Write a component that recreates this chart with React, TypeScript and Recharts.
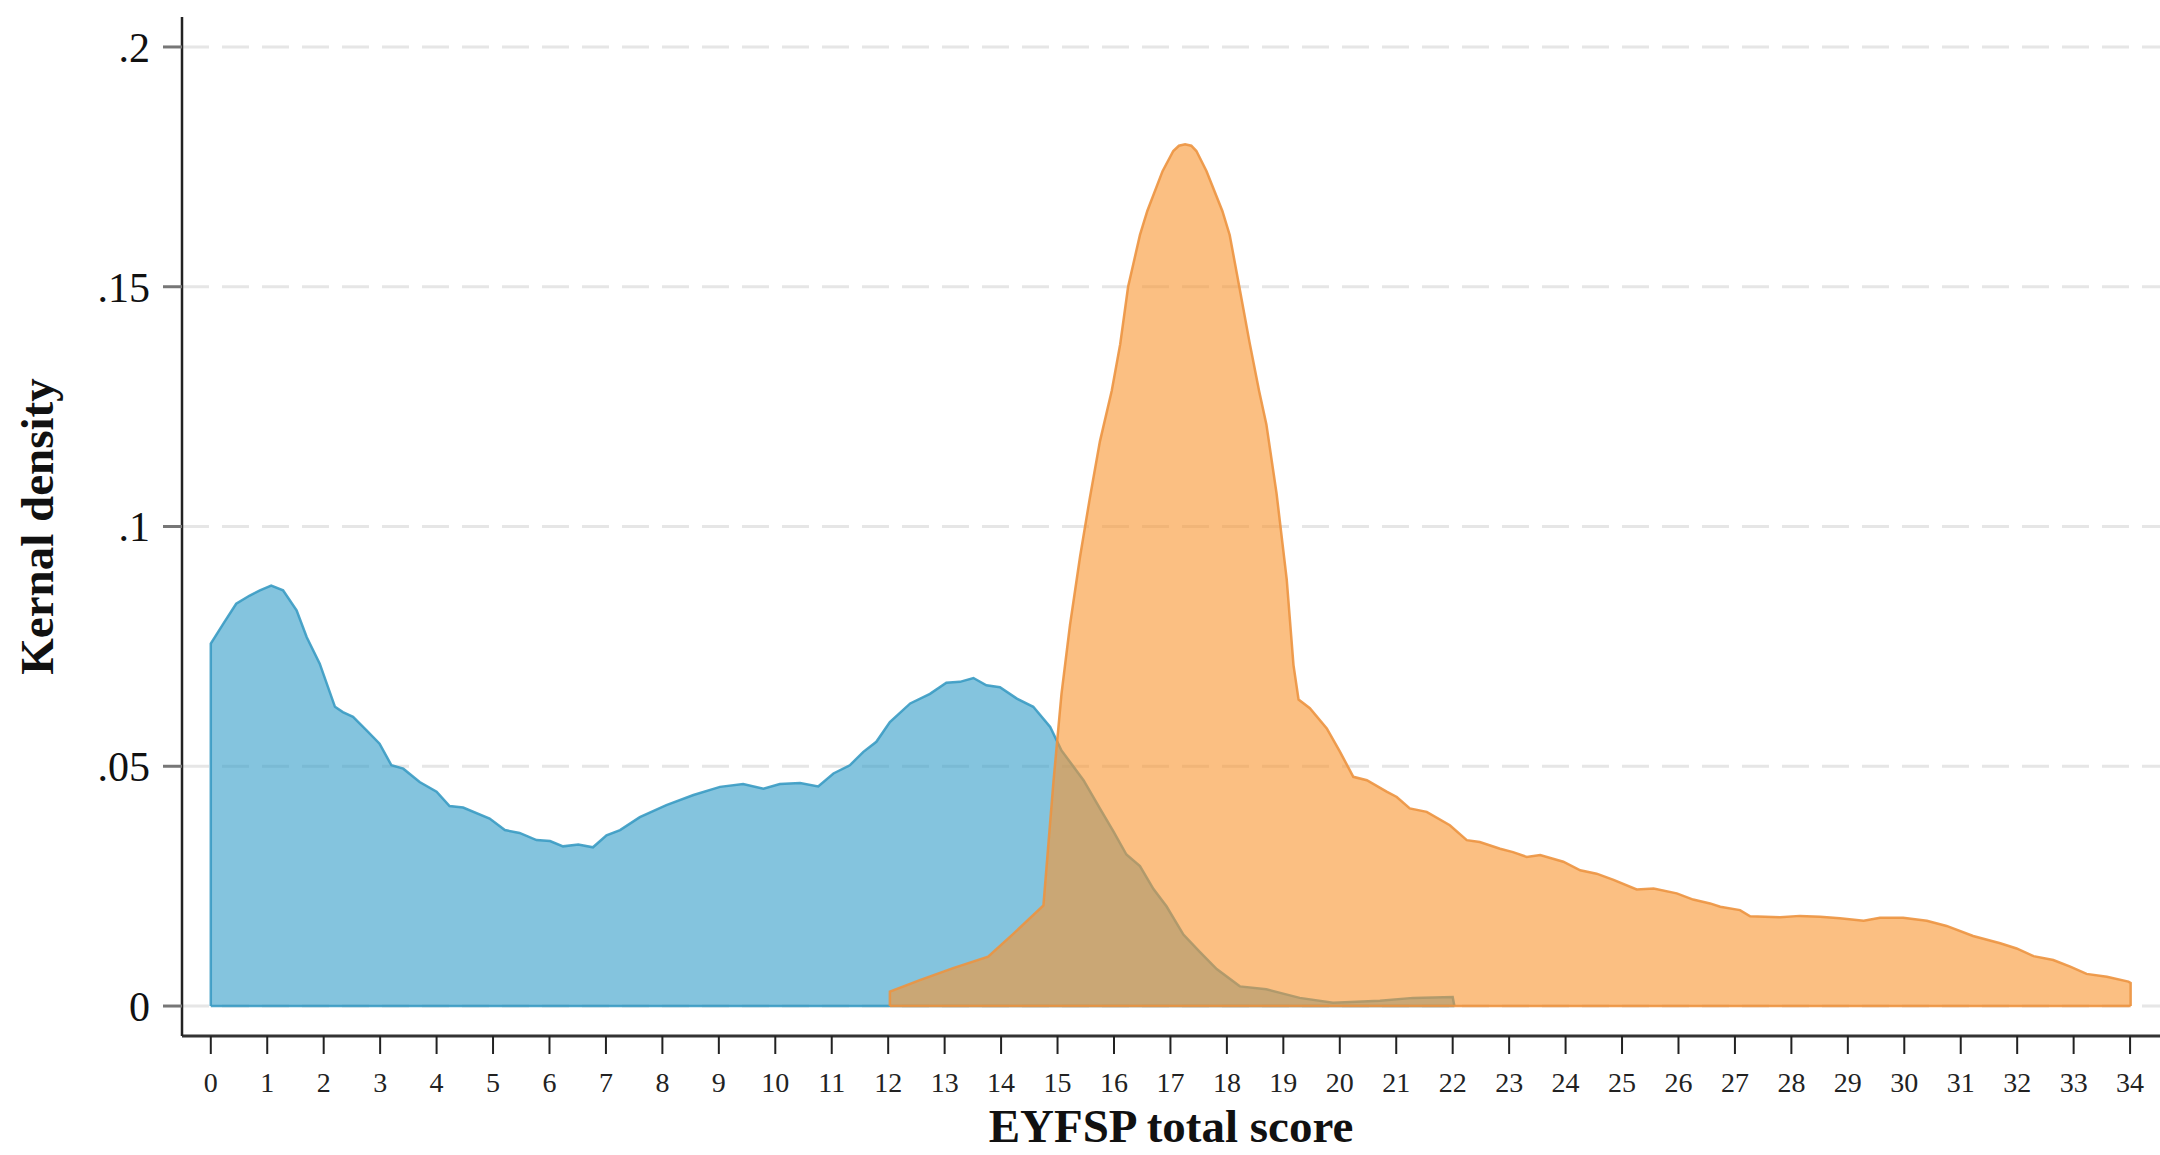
import * as React from "react";
import { Area, CartesianGrid, ComposedChart, Label, XAxis, YAxis } from "recharts";

// Kernel density of EYFSP total score, two groups.
// Each series starts and ends on the baseline so the outline has vertical edges.

const blueX = [
  0, 0, 0.22, 0.45, 0.69, 0.87, 1.07, 1.28, 1.52, 1.7, 1.93, 2.2, 2.34, 2.52, 2.76, 2.99, 3.2, 3.41, 3.7, 4.0,
  4.23, 4.47, 4.94, 5.21, 5.47, 5.77, 6.01, 6.24, 6.51, 6.77, 7.01, 7.25, 7.6, 8.07, 8.55, 9.02, 9.43, 9.79,
  10.08, 10.44, 10.76, 11.03, 11.32, 11.56, 11.79, 12.03, 12.39, 12.74, 13.03, 13.27, 13.51, 13.74, 13.98,
  14.28, 14.57, 14.87, 15.07, 15.46, 15.75, 15.99, 16.22, 16.46, 16.7, 16.93, 17.23, 17.52, 17.82, 18.23,
  18.7, 19.29, 19.88, 20.71, 21.3, 22.0, 22.03,
];
const blueY = [
  0, 0.0756, 0.0797, 0.0839, 0.0856, 0.0867, 0.0877, 0.0867, 0.0825, 0.0769, 0.0714, 0.0624, 0.0613, 0.0603,
  0.0575, 0.0547, 0.0502, 0.0495, 0.0467, 0.0447, 0.0417, 0.0414, 0.0391, 0.0367, 0.0361, 0.0346, 0.0344,
  0.0333, 0.0337, 0.0331, 0.0356, 0.0367, 0.0394, 0.0419, 0.044, 0.0457, 0.0463, 0.0453, 0.0463, 0.0465,
  0.0458, 0.0485, 0.0502, 0.053, 0.0551, 0.0592, 0.0631, 0.0651, 0.0674, 0.0676, 0.0684, 0.0669, 0.0665,
  0.0641, 0.0624, 0.0582, 0.0533, 0.0471, 0.0412, 0.0364, 0.0316, 0.0292, 0.0244, 0.0208, 0.0149, 0.0113,
  0.0077, 0.0041, 0.0035, 0.0017, 0.0007, 0.0011, 0.0017, 0.0019, 0,
];

const orangeX = [
  12.03, 12.03, 12.56, 13.15, 13.77, 14.22, 14.75, 14.93, 15.07, 15.22, 15.4, 15.57, 15.75, 15.96, 16.11,
  16.25, 16.46, 16.59, 16.86, 17.05, 17.15, 17.26, 17.37, 17.46, 17.64, 17.92, 18.05, 18.22, 18.4, 18.57,
  18.7, 18.88, 19.06, 19.18, 19.27, 19.47, 19.77, 20.0, 20.24, 20.48, 20.83, 21.01, 21.24, 21.54, 21.95,
  22.25, 22.48, 22.84, 23.07, 23.31, 23.55, 23.96, 24.26, 24.55, 24.85, 25.26, 25.56, 25.97, 26.26, 26.56,
  26.74, 27.09, 27.27, 27.8, 28.15, 28.51, 28.86, 29.28, 29.57, 29.98, 30.4, 30.75, 31.22, 31.7, 31.99,
  32.29, 32.64, 32.94, 33.23, 33.59, 33.97, 34.01, 34.01,
];
const orangeY = [
  0, 0.003, 0.0054, 0.0079, 0.0103, 0.0151, 0.021, 0.0471, 0.0651, 0.0794, 0.0938, 0.1058, 0.1177, 0.1283,
  0.138, 0.15, 0.1608, 0.1658, 0.1741, 0.1783, 0.1794, 0.1797, 0.1794, 0.1783, 0.1741, 0.1658, 0.1608, 0.15,
  0.1385, 0.1283, 0.1213, 0.1069, 0.089, 0.0711, 0.0639, 0.0621, 0.0579, 0.0531, 0.0478, 0.0471, 0.0447,
  0.0436, 0.0412, 0.0405, 0.0377, 0.0346, 0.0342, 0.0328, 0.0321, 0.0311, 0.0315, 0.0301, 0.0283, 0.0276,
  0.0263, 0.0243, 0.0245, 0.0235, 0.0222, 0.0214, 0.0207, 0.02, 0.0187, 0.0185, 0.0188, 0.0186, 0.0183,
  0.0178, 0.0184, 0.0184, 0.0178, 0.0167, 0.0146, 0.0131, 0.012, 0.0104, 0.0096, 0.0082, 0.0067, 0.0061,
  0.0051, 0.0048, 0,
];

const xTicks = [
  0, 1, 2, 3, 4, 5, 6, 7, 8, 9, 10, 11, 12, 13, 14, 15, 16, 17, 18, 19, 20, 21, 22, 23, 24, 25, 26, 27, 28,
  29, 30, 31, 32, 33, 34,
];
const yTicks = [0, 0.05, 0.1, 0.15, 0.2];

const xTitle = "EYFSP total score";
const yTitle = "Kernal density";

const SERIF = '"Liberation Serif", "Times New Roman", serif';

const zip = (xs: number[], ys: number[]) => xs.map((x, i) => ({ x, y: ys[i] }));
const blue = zip(blueX, blueY);
const orange = zip(orangeX, orangeY);

// Stata-style labels: ".05" rather than "0.05".
const fmtY = (v: number) => (v === 0 ? "0" : String(v).replace(/^0/, ""));
// range key -> Recharts strokes the baseline too, like the outlined areas in the original
const band = (d: { y: number }) => [0, d.y];

export default function App() {
  return (
    <div style={{ position: "absolute", left: 0, top: 0, width: 2160, height: 1155, background: "#fff" }}>
      <ComposedChart width={2160} height={1155} margin={{ top: 17, right: 0, bottom: 0, left: 0 }}>
        <CartesianGrid
          vertical={false}
          horizontalValues={yTicks}
          stroke="#e6e6e6"
          strokeWidth={3}
          strokeDasharray="27 13"
        />
        <XAxis
          type="number"
          dataKey="x"
          domain={[-0.51, 34.53]}
          ticks={xTicks}
          interval={0}
          allowDataOverflow
          height={119}
          tickSize={18}
          tickMargin={18}
          axisLine={{ stroke: "#333", strokeWidth: 3 }}
          tickLine={{ stroke: "#222", strokeWidth: 2 }}
          tick={{ fontSize: 28, fill: "#222", fontFamily: SERIF }}
        >
          <Label
            content={(p: any) => (
              <text
                x={p.viewBox.x + p.viewBox.width / 2}
                y={1142}
                textAnchor="middle"
                fontFamily={SERIF}
                fontWeight="bold"
                fontSize={47}
                fill="#111"
              >
                {xTitle}
              </text>
            )}
          />
        </XAxis>
        <YAxis
          type="number"
          domain={[-0.00625, 0.20625]}
          ticks={yTicks}
          interval={0}
          allowDataOverflow
          width={182}
          tickSize={19}
          tickMargin={13}
          tickFormatter={fmtY}
          axisLine={{ stroke: "#222", strokeWidth: 2.5 }}
          tickLine={{ stroke: "#777", strokeWidth: 3 }}
          tick={{ fontSize: 42, fill: "#111", fontFamily: SERIF }}
        >
          <Label
            content={(p: any) => {
              const cy = p.viewBox.y + p.viewBox.height / 2;
              return (
                <text
                  x={53}
                  y={cy}
                  transform={`rotate(-90 53 ${cy})`}
                  textAnchor="middle"
                  fontFamily={SERIF}
                  fontWeight="bold"
                  fontSize={47}
                  fill="#111"
                >
                  {yTitle}
                </text>
              );
            }}
          />
        </YAxis>
        <Area
          data={blue}
          dataKey={band}
          type="linear"
          fill="#329dc8"
          fillOpacity={0.6}
          stroke="#3a9bc3"
          strokeWidth={2.5}
          strokeOpacity={0.9}
          dot={false}
          activeDot={false}
          isAnimationActive={false}
        />
        <Area
          data={orange}
          dataKey={band}
          type="linear"
          fill="#f8942f"
          fillOpacity={0.6}
          stroke="#ec9440"
          strokeWidth={2.5}
          strokeOpacity={0.9}
          dot={false}
          activeDot={false}
          isAnimationActive={false}
        />
      </ComposedChart>
    </div>
  );
}
